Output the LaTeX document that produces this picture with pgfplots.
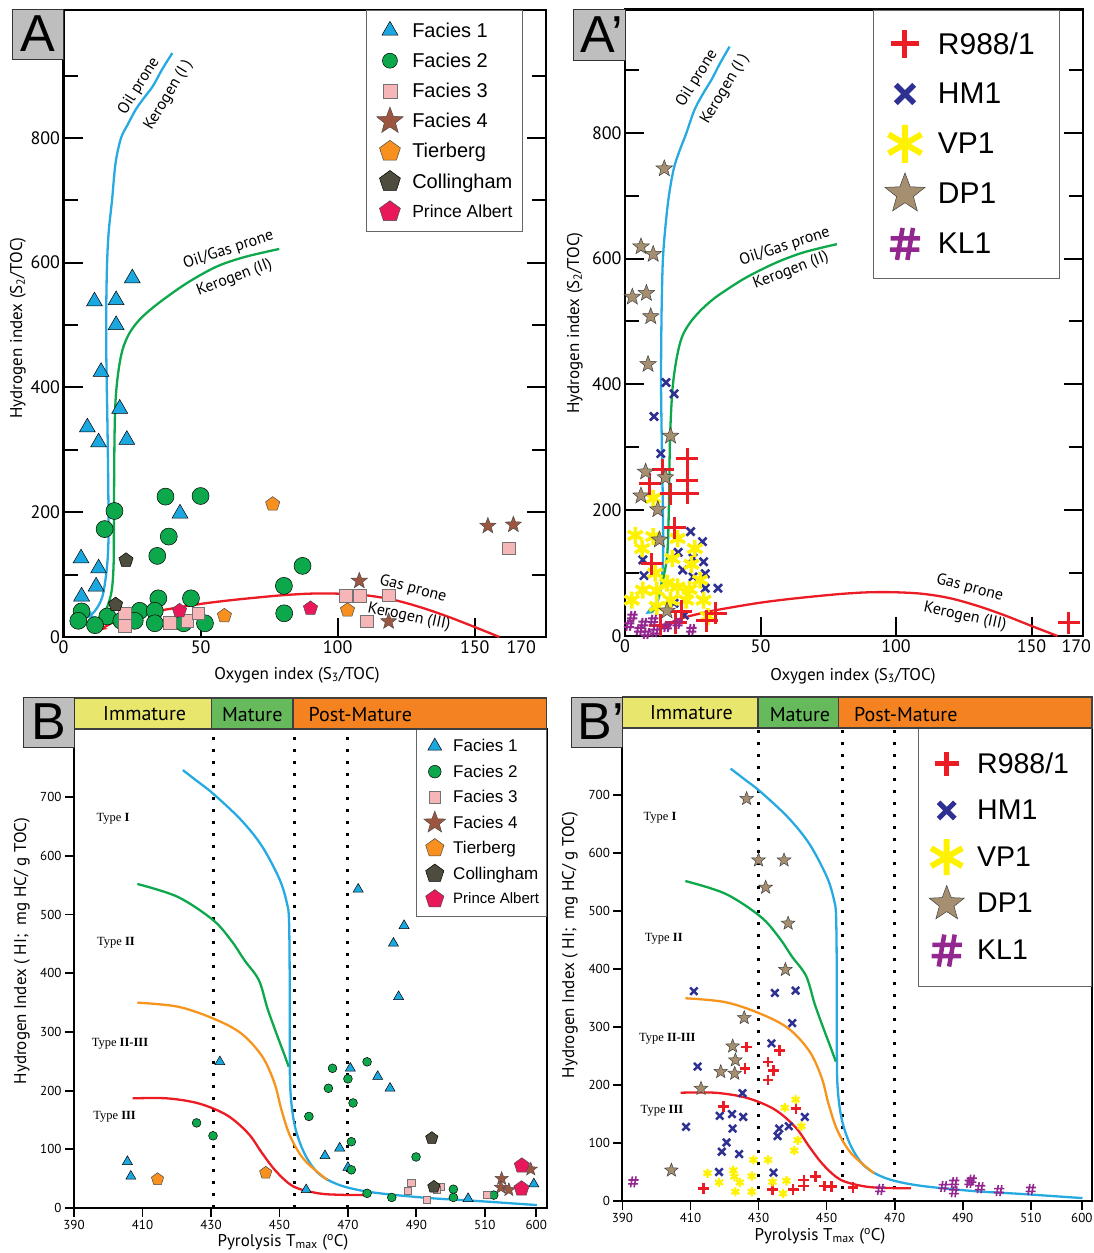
\documentclass[border=0pt]{standalone}
\usepackage{fontspec}
\setmainfont{Liberation Sans}
\newfontfamily\ptsans{PT Sans}
\newfontfamily\lserif{Liberation Serif}
\usepackage{pgfplots}
\pgfplotsset{compat=1.18}
\usetikzlibrary{arrows.meta}

\definecolor{cyanb}{HTML}{1BA8E0}
\definecolor{curveblue}{HTML}{27AAE1}
\definecolor{grn}{HTML}{0DA84B}
\definecolor{pinksq}{HTML}{F6B6B8}
\definecolor{brstar}{HTML}{9C5640}
\definecolor{tier}{HTML}{F7901E}
\definecolor{coll}{HTML}{4D4C3E}
\definecolor{prince}{HTML}{E8185A}
\definecolor{redc}{HTML}{EC1C24}
\definecolor{orc}{HTML}{F7941D}
\definecolor{hm}{HTML}{2E3192}
\definecolor{vp}{HTML}{FFF200}
\definecolor{dp}{HTML}{A58F70}
\definecolor{kl}{HTML}{93278F}
\definecolor{bandY}{HTML}{E8E66C}
\definecolor{bandG}{HTML}{66BA5C}
\definecolor{bandO}{HTML}{F48220}
\definecolor{boxgray}{HTML}{BEBEBE}

\pgfdeclareplotmark{fstar}{%
  \pgfpathmoveto{\pgfqpointpolar{90}{\pgfplotmarksize}}%
  \pgfpathlineto{\pgfqpointpolar{126}{0.42\pgfplotmarksize}}%
  \pgfpathlineto{\pgfqpointpolar{162}{\pgfplotmarksize}}%
  \pgfpathlineto{\pgfqpointpolar{198}{0.42\pgfplotmarksize}}%
  \pgfpathlineto{\pgfqpointpolar{234}{\pgfplotmarksize}}%
  \pgfpathlineto{\pgfqpointpolar{270}{0.42\pgfplotmarksize}}%
  \pgfpathlineto{\pgfqpointpolar{306}{\pgfplotmarksize}}%
  \pgfpathlineto{\pgfqpointpolar{342}{0.42\pgfplotmarksize}}%
  \pgfpathlineto{\pgfqpointpolar{18}{\pgfplotmarksize}}%
  \pgfpathlineto{\pgfqpointpolar{54}{0.42\pgfplotmarksize}}%
  \pgfpathclose
  \pgfusepathqfillstroke
}
\pgfdeclareplotmark{hashm}{%
  \pgfpathmoveto{\pgfqpoint{-0.5\pgfplotmarksize}{-\pgfplotmarksize}}%
  \pgfpathlineto{\pgfqpoint{-0.15\pgfplotmarksize}{\pgfplotmarksize}}%
  \pgfpathmoveto{\pgfqpoint{0.15\pgfplotmarksize}{-\pgfplotmarksize}}%
  \pgfpathlineto{\pgfqpoint{0.5\pgfplotmarksize}{\pgfplotmarksize}}%
  \pgfpathmoveto{\pgfqpoint{-0.9\pgfplotmarksize}{0.35\pgfplotmarksize}}%
  \pgfpathlineto{\pgfqpoint{0.95\pgfplotmarksize}{0.35\pgfplotmarksize}}%
  \pgfpathmoveto{\pgfqpoint{-0.95\pgfplotmarksize}{-0.35\pgfplotmarksize}}%
  \pgfpathlineto{\pgfqpoint{0.9\pgfplotmarksize}{-0.35\pgfplotmarksize}}%
  \pgfusepathqstroke
}

\pgfplotsset{
  sF1/.style={mark=triangle*, mark options={solid, fill=cyanb, draw=black, line width=0.5pt}},
  sF2/.style={mark=*, mark options={solid, fill=grn, draw=black, line width=0.5pt}},
  sF3/.style={mark=square*, mark options={solid, fill=pinksq, draw=black!55, line width=0.6pt}},
  sF4/.style={mark=fstar, mark options={solid, fill=brstar, draw=black!70, line width=0.5pt}},
  sTi/.style={mark=pentagon*, mark options={solid, fill=tier, draw=black!70, line width=0.5pt}},
  sCo/.style={mark=pentagon*, mark options={solid, fill=coll, draw=black, line width=0.5pt}},
  sPA/.style={mark=pentagon*, mark options={solid, fill=prince, draw=black!70, line width=0.5pt}},
  sD/.style={mark=fstar, mark options={solid, fill=dp, draw=black!75, line width=0.5pt}},
  cv/.style={smooth, tension=0.55, line width=2.3pt, mark=none, forget plot},
  pts/.style={only marks, forget plot},
}

\begin{document}
\begin{tikzpicture}
\path[use as bounding box] (0pt,0pt) rectangle (1094pt,-1253pt);

%%%%%%%%%%%%%%%% PANEL A
\begin{axis}[at={(63.5pt,-637pt)}, anchor=south west, scale only axis,
  width=482.5pt, height=627pt, xmin=0, xmax=176, ymin=0, ymax=1005, clip=false,
  axis line style={line width=2.2pt}, tick align=inside, xtick pos=left, ytick pos=both,
  xtick={0,50,100,150}, extra x ticks={167}, extra x tick labels={170},
  extra x tick style={major tick length=0pt},
  ytick={0,200,400,600,800}, minor ytick={100,300,500,700,900},
  major tick length=19pt, minor tick length=14pt,
  tick style={line width=2pt, black},
  tick label style={font=\ptsans\fontsize{18}{18}\selectfont},
  /pgf/number format/assume math mode=true,
  legend cell align=left,
  legend style={at={(0.952,1)}, anchor=north east, draw=black!60, line width=0.8pt,
    inner xsep=10pt, inner ysep=5pt, row sep=0pt, column sep=9pt,
    font=\fontsize{20}{22}\selectfont, nodes={minimum height=30.2pt, inner sep=0pt}},
  legend image code/.code={\path[draw=none,fill=none] (-12pt,-6pt) rectangle (12pt,6pt);
    \draw[#1,/tikz/only marks] plot coordinates {(0pt,0pt)};},
]
\addplot[cv, curveblue, -{Stealth[length=8pt,width=7pt]}] coordinates {(39.7,936) (36,910) (32.6,883) (29,862) (26.3,845) (23.5,822) (21,800) (19,760) (17.7,700) (16.5,650) (15.9,600) (15.6,530) (15.6,460) (15.8,400) (16.1,320) (16.4,209) (16.4,155) (15.8,110) (14.2,65) (11.5,42) (8.5,30)};
\addplot[cv, grn, -{Stealth[length=8pt,width=7pt]}] coordinates {(78.7,622) (66,609) (56,594) (46,570) (38,546) (31.5,524) (27,505) (23.8,485) (21.5,460) (20,425) (19,380) (18.6,316) (18.4,200) (18.3,120) (17.6,75) (16,49) (14,33) (11.5,24)};
\addplot[cv, redc, -{Stealth[length=8pt,width=7pt]}] coordinates {(159,0) (150,16) (140,33) (130,48) (120,60) (110,67) (100,69.5) (90,69.5) (80,67) (70,63) (60,58.5) (50,53) (40,46) (30,38) (20,27) (15.4,17) (13,10)};
% Facies 2
\addplot[pts, sF2, mark size=8.5pt] coordinates {(37.2,225) (50,226) (18.6,202) (15,173) (38.4,161) (34.2,130) (87.2,114) (80.4,82) (34.6,62) (46.5,62) (6.6,41) (27.8,42) (33.3,42) (16,33) (5.4,26) (21.1,26) (26,26) (33.3,22) (43.8,22) (51.6,22) (11.5,19) (80.5,38)};
% Facies 1
\addplot[pts, sF1, mark size=9.2pt] coordinates {(13.7,425) (20.5,366) (8.7,336) (12.8,312) (23.1,316) (42.5,198) (6.4,126) (12.8,110) (11.9,81) (6.6,65) (25.1,575) (11.3,538) (19.2,540) (19.2,500)};
% Facies 3
\addplot[pts, sF3, mark size=6.3pt] coordinates {(22.4,37) (22.4,18) (38.8,23) (45.2,26) (49.1,38) (102.9,66) (108.1,66) (118.6,67) (110.6,25) (162.4,142)};
% Facies 4
\addplot[pts, sF4, mark size=8.5pt] coordinates {(107.9,90) (118.6,25) (154.8,178) (164.1,180)};
\addplot[pts, sTi, mark size=7.5pt] coordinates {(76.3,213) (58.7,34) (103.6,43)};
\addplot[pts, sCo, mark size=7.5pt] coordinates {(22.8,123) (19,52)};
\addplot[pts, sPA, mark size=7.5pt] coordinates {(42.3,42) (90.1,46)};
\addlegendimage{sF1, mark size=9.2pt}\addlegendentry{Facies 1}
\addlegendimage{sF2, mark size=7.5pt}\addlegendentry{Facies 2}
\addlegendimage{sF3, mark size=7pt}\addlegendentry{Facies 3}
\addlegendimage{sF4, mark size=14pt}\addlegendentry{Facies 4}
\addlegendimage{sTi, mark size=11pt}\addlegendentry{Tierberg}
\addlegendimage{sCo, mark size=11pt}\addlegendentry{Collingham}
\addlegendimage{sPA, mark size=11pt}\addlegendentry{\fontsize{17.5}{20}\selectfont Prince Albert}
\end{axis}

%%%%%%%%%%%%%%%% PANEL A'
\begin{axis}[at={(625pt,-636pt)}, anchor=south west, scale only axis,
  width=458pt, height=626.5pt, xmin=0, xmax=169, ymin=0, ymax=996, clip=false,
  axis line style={line width=2.2pt}, tick align=inside, xtick pos=left, ytick pos=both,
  xtick={0,50,100,150}, extra x ticks={166.5}, extra x tick labels={170},
  extra x tick style={major tick length=0pt},
  ytick={0,200,400,600,800}, minor ytick={100,300,500,700,900},
  major tick length=19pt, minor tick length=14pt,
  tick style={line width=2pt, black},
  tick label style={font=\ptsans\fontsize{18}{18}\selectfont},
  /pgf/number format/assume math mode=true,
  legend cell align=left,
  legend style={at={(0.95,1)}, anchor=north east, draw=black!60, line width=0.8pt,
    inner xsep=12pt, inner ysep=9pt, row sep=0pt, column sep=13pt,
    font=\fontsize{30}{32}\selectfont, nodes={minimum height=50pt, inner sep=0pt}},
  legend image code/.code={\path[draw=none,fill=none] (-18pt,-6pt) rectangle (18pt,6pt);
    \draw[#1,/tikz/only marks] plot coordinates {(0pt,0pt)};},
]
\addplot[cv, curveblue, -{Stealth[length=8pt,width=7pt]}] coordinates {(38.6,937) (35,910) (32,885) (28.5,860) (25.5,835) (22.6,799) (20,770) (18,743) (16.2,700) (14.9,650) (14,600) (13.6,540) (13.4,480) (13.3,400) (13.6,300) (14,200) (14,120) (13,70) (11,47) (7.5,35)};
\addplot[cv, grn, -{Stealth[length=8pt,width=7pt]}] coordinates {(78.2,623) (66,610) (56,594) (46,573) (39.8,557) (33,537) (28,518) (24,498) (21,475) (19,440) (17.5,391) (16.6,312) (16.2,206) (15.5,126) (13,73) (9.8,36)};
\addplot[cv, redc, -{Stealth[length=8pt,width=7pt]}] coordinates {(159.6,0) (150,16) (140,33) (130,48) (120,60) (110,67) (100,69.5) (90,69.5) (80,67) (70,63) (60,58.5) (50,53) (40,46) (30,38) (20,27) (15.4,17) (13,10)};
% HM1
\addplot[pts, mark=x, hm, mark size=5.7pt, mark options={line width=2.6pt}] coordinates {(15.1,403) (18.1,385) (10.7,349) (13.2,290) (24.2,166) (28.6,150) (19.6,133) (6.6,121) (29,118) (25.1,124) (21.3,105) (29.6,99) (7,96) (25.1,94) (34.3,76) (29.6,76) (21.9,33) (18.1,52)};
% VP1
\addplot[pts, mark=asterisk, vp, mark size=8.5pt, mark options={line width=3.6pt}] coordinates {(3.8,160) (10.4,158) (19.4,155) (6.3,139) (25.8,139) (17.5,123) (24.5,114) (11.1,100) (27.7,89) (15.5,84) (19.4,78) (6.6,73) (11.7,72) (23.8,74) (2.5,57) (16.8,57) (22.6,57) (29,57) (10.4,219) (30.6,31) (11.7,47)};
% R988/1
\addplot[pts, mark=+, redc, mark size=11pt, mark options={line width=3pt}] coordinates {(23,282) (14,264) (23,248) (9.1,242) (16.8,226) (23.2,227) (18.3,172) (9.8,115) (33.5,36) (30.2,24) (163.7,21) (20.7,39) (13,17) (18.7,21)};
% DP1
\addplot[pts, sD, mark size=8.7pt] coordinates {(14.5,743) (5.9,619) (10.4,607) (2.7,539) (7.9,545) (9.5,508) (8.5,432) (16.8,318) (7.6,261) (14.9,252) (5.9,223) (12.1,201) (12.7,153) (15.5,40)};
% KL1
\addplot[pts, mark=hashm, kl, mark size=5.5pt, mark options={line width=2pt}] coordinates {(2.7,31) (6.8,20) (10.4,25) (5.3,10) (11.1,7) (15.5,15) (19.4,20) (24.5,10) (1.5,17) (7.9,4)};
\addlegendimage{mark=+, redc, mark size=14pt, mark options={line width=5pt}}\addlegendentry{R988/1\rule{13pt}{0pt}}
\addlegendimage{mark=x, hm, mark size=13pt, mark options={line width=5.5pt}}\addlegendentry{HM1}
\addlegendimage{mark=asterisk, vp, mark size=19pt, mark options={line width=6pt}}\addlegendentry{VP1}
\addlegendimage{sD, mark size=21pt}\addlegendentry{DP1}
\addlegendimage{mark=hashm, kl, mark size=16pt, mark options={line width=4.5pt}}\addlegendentry{KL1}
\end{axis}

%%%%%%%%%%%%%%%% PANEL B
\begin{axis}[at={(74pt,-1208pt)}, anchor=south west, scale only axis,
  width=472.5pt, height=479pt, xmin=390, xmax=528, ymin=0, ymax=816, clip=false,
  axis line style={line width=2pt}, tick align=outside, xtick pos=left, ytick pos=left,
  xtick={390,410,430,450,470,490,510,525}, xticklabels={390,410,430,450,470,490,510,600},
  ytick={0,100,200,300,400,500,600,700},
  major tick length=9pt, tick style={line width=1.8pt, black},
  tick label style={font=\ptsans\fontsize{13}{13}\selectfont},
  /pgf/number format/assume math mode=true,
  legend cell align=left,
  legend style={at={(1,1)}, anchor=north east, draw=black!60, line width=0.8pt,
    inner xsep=7pt, inner ysep=4pt, row sep=0pt, column sep=7.5pt,
    font=\fontsize{17}{19}\selectfont, nodes={minimum height=25.5pt, inner sep=0pt}},
  legend image code/.code={\path[draw=none,fill=none] (-10.5pt,-6pt) rectangle (10.5pt,6pt);
    \draw[#1,/tikz/only marks] plot coordinates {(0pt,0pt)};},
]
\draw[line width=3pt, dash pattern=on 3pt off 9pt] (axis cs:430.6,0) -- (axis cs:430.6,816);
\draw[line width=3pt, dash pattern=on 3pt off 9pt] (axis cs:454.4,0) -- (axis cs:454.4,816);
\draw[line width=3pt, dash pattern=on 3pt off 9pt] (axis cs:470,0) -- (axis cs:470,816);
\addplot[cv, curveblue] coordinates {(421.8,746) (426,727) (430.6,706) (438.8,661) (445,615.5) (450.1,559) (452.2,519) (452.8,490) (453,390) (453,290) (453.2,200) (454.5,140) (457.3,93) (461.4,59) (467.6,39) (476.8,27) (492.3,17.6) (507.7,12) (525.2,5)};
\addplot[cv, grn] coordinates {(408.5,552) (420.3,530) (430.6,490.6) (436,455) (439.8,422) (444,388) (446.5,340) (449.1,297.6) (451.2,265) (452.7,240.8)};
\addplot[cv, orc] coordinates {(408.5,349.8) (420.3,343) (430.6,323) (438.8,297.6) (445,258) (448.6,212) (450.6,167) (453.2,121.5) (457.3,81.8) (464,47.7)};
\addplot[cv, redc] coordinates {(407.1,186.8) (417.2,186.8) (426.5,178) (434.7,158) (440.9,127) (445,93) (449.1,62) (454.2,36.4) (461.4,25) (468,22.5) (474.8,22)};
\addplot[pts, sF1, mark size=5.8pt] coordinates {(473,543) (486.4,481) (483.3,451) (484.8,360) (432.6,249) (470.7,238) (478.7,224) (482.3,204) (467.6,102) (463.3,89) (470,69) (405.6,79) (406.6,54) (457.8,31) (505.1,16) (524.3,41)};
\addplot[pts, sF2, mark size=4.4pt] coordinates {(425.8,145) (430.6,123) (465.5,238) (464.3,204) (470,220) (475.6,249) (471.5,179) (458.6,156) (471,113) (471,65) (489.9,87) (475.6,25) (482.8,18) (500.8,32) (500.8,18) (512.6,22)};
\addplot[pts, sF3, mark size=3.6pt] coordinates {(488.5,43) (487.4,30) (493,14) (497.1,36) (496,31) (510.5,22)};
\addplot[pts, sF4, mark size=7pt] coordinates {(514.9,50) (514.7,35) (517,31) (523.4,66)};
\addplot[pts, sTi, mark size=6.5pt] coordinates {(414.4,49) (446,60)};
\addplot[pts, sCo, mark size=6.5pt] coordinates {(494.5,119) (495.1,36)};
\addplot[pts, sPA, mark size=8pt] coordinates {(520.8,72) (520.7,33)};
\addlegendimage{sF1, mark size=8pt}\addlegendentry{Facies 1}
\addlegendimage{sF2, mark size=6.3pt}\addlegendentry{Facies 2}
\addlegendimage{sF3, mark size=5.8pt}\addlegendentry{Facies 3}
\addlegendimage{sF4, mark size=11.5pt}\addlegendentry{Facies 4}
\addlegendimage{sTi, mark size=9.6pt}\addlegendentry{Tierberg}
\addlegendimage{sCo, mark size=9.6pt}\addlegendentry{Collingham}
\addlegendimage{sPA, mark size=9.6pt}\addlegendentry{\fontsize{15}{17}\selectfont Prince Albert}
\end{axis}

%%%%%%%%%%%%%%%% PANEL B'
\begin{axis}[at={(622.4pt,-1201pt)}, anchor=south west, scale only axis,
  width=469.6pt, height=473pt, xmin=390, xmax=528, ymin=0, ymax=816, clip=false,
  axis line style={line width=2pt}, tick align=outside, xtick pos=left, ytick pos=left,
  xtick={390,410,430,450,470,490,510,525}, xticklabels={390,410,430,450,470,490,510,600},
  ytick={0,100,200,300,400,500,600,700},
  major tick length=9pt, tick style={line width=1.8pt, black},
  tick label style={font=\ptsans\fontsize{13}{13}\selectfont},
  /pgf/number format/assume math mode=true,
  legend cell align=left,
  legend style={at={(1,1)}, anchor=north east, draw=black!60, line width=0.8pt,
    inner xsep=11pt, inner ysep=12pt, row sep=0pt, column sep=13pt,
    font=\fontsize{28.5}{30}\selectfont, nodes={minimum height=46.7pt, inner sep=0pt}},
  legend image code/.code={\path[draw=none,fill=none] (-16.5pt,-6pt) rectangle (16.5pt,6pt);
    \draw[#1,/tikz/only marks] plot coordinates {(0pt,0pt)};},
]
\draw[line width=3pt, dash pattern=on 3pt off 9pt] (axis cs:430,0) -- (axis cs:430,816);
\draw[line width=3pt, dash pattern=on 3pt off 9pt] (axis cs:454.6,0) -- (axis cs:454.6,816);
\draw[line width=3pt, dash pattern=on 3pt off 9pt] (axis cs:470,0) -- (axis cs:470,816);
\addplot[cv, curveblue] coordinates {(421.8,746) (426,727) (430.6,706) (438.8,661) (445,615.5) (450.1,559) (452.2,519) (452.8,490) (453,390) (453,290) (453.2,200) (454.5,140) (457.3,93) (461.4,59) (467.6,39) (476.8,27) (492.3,17.6) (507.7,12) (525.2,5)};
\addplot[cv, grn] coordinates {(408.5,552) (420.3,530) (430.6,490.6) (436,455) (439.8,422) (444,388) (446.5,340) (449.1,297.6) (451.2,265) (452.7,240.8)};
\addplot[cv, orc] coordinates {(408.5,349.8) (420.3,343) (430.6,323) (438.8,297.6) (445,258) (448.6,212) (450.6,167) (453.2,121.5) (457.3,81.8) (464,47.7)};
\addplot[cv, redc] coordinates {(407.1,186.8) (417.2,186.8) (426.5,178) (434.7,158) (440.9,127) (445,93) (449.1,62) (454.2,36.4) (461.4,25) (468,22.5) (474.8,22)};
% HM1
\addplot[pts, mark=x, hm, mark size=5.2pt, mark options={line width=2.5pt}] coordinates {(411,362) (434.8,359) (440.9,363) (439.9,307) (433.8,272) (412.1,232) (425.3,186) (418.6,147) (422.2,150) (425.5,145) (443.6,145) (408.7,128) (422.4,125) (436.1,125) (438.9,129) (435.6,112) (420.6,101) (419.2,85) (424.3,81) (418.4,50) (434.4,49)};
% R988/1
\addplot[pts, mark=+, redc, mark size=5.3pt, mark options={line width=2.5pt}] coordinates {(426.5,266) (436.1,260) (432.8,240) (434.4,225) (426,229) (432.8,209) (419.7,163) (441,160) (413.8,22) (434.1,20) (440.2,20) (443.3,36) (443.3,26) (446.8,42) (449.4,26) (451.4,25) (457.8,23)};
% VP1
\addplot[pts, mark=asterisk, vp, mark size=4.6pt, mark options={line width=2.2pt}] coordinates {(440.9,175) (437.7,161) (442.6,129) (441.5,105) (440.5,87) (428.5,71) (432.8,71) (415,48) (422.6,53) (422.9,42) (428,43) (424.5,32) (418.4,32) (434.1,33) (438.2,35) (423.2,16) (428,16) (437.2,13)};
% DP1
\addplot[pts, sD, mark size=7.2pt] coordinates {(426.5,694) (430,588) (437.5,588) (432.1,541) (438.7,479) (437.9,399) (425.8,316) (422.4,267) (423.2,243) (418.9,223) (423,220) (413.1,194) (404.4,53)};
% KL1
\addplot[pts, mark=hashm, kl, mark size=5.5pt, mark options={line width=1.6pt}] coordinates {(393.2,33) (465.8,20) (484.4,25) (487.5,32) (487.5,16) (492,32) (492.6,36) (495.1,23) (500.7,18) (510,20)};
\addlegendimage{mark=+, redc, mark size=12pt, mark options={line width=5pt}}\addlegendentry{R988/1\rule{11.5pt}{0pt}}
\addlegendimage{mark=x, hm, mark size=11.5pt, mark options={line width=5pt}}\addlegendentry{HM1}
\addlegendimage{mark=asterisk, vp, mark size=18pt, mark options={line width=6pt}}\addlegendentry{VP1}
\addlegendimage{sD, mark size=18.4pt}\addlegendentry{DP1}
\addlegendimage{mark=hashm, kl, mark size=16pt, mark options={line width=4.5pt}}\addlegendentry{KL1}
\end{axis}

%%%%%%%%%%%%%%%% Decorations: labels, panel boxes, bands
\tikzset{lab/.style={font=\ptsans\fontsize{17}{17}\selectfont}, ann/.style={font=\ptsans\fontsize{16}{16}\selectfont}}
% A
\node[lab, rotate=90] at (18pt,-328pt) {Hydrogen index (S\textsubscript{2}/TOC)};
\node[lab] at (297pt,-675pt) {Oxygen index (S\textsubscript{3}/TOC)};
\node[ann, rotate=58] at (139pt,-86pt) {Oil prone};
\node[ann, rotate=59] at (168.5pt,-95pt) {Kerogen (I )};
\node[ann, rotate=18] at (228.5pt,-250pt) {Oil/Gas prone};
\node[ann, rotate=21] at (234.5pt,-278pt) {Kerogen (II)};
\node[ann, rotate=-15] at (413pt,-589pt) {Gas prone};
\node[ann, rotate=-12] at (409pt,-617pt) {Kerogen (III)};
\filldraw[fill=boxgray, draw=black!80, line width=1pt] (12pt,-9pt) rectangle (63.5pt,-59pt);
\node[font=\fontsize{52}{52}\selectfont] at (38pt,-34pt) {A};
% A'
\node[lab, rotate=90] at (575pt,-323pt) {Hydrogen index (S\textsubscript{2}/TOC)};
\node[lab] at (853pt,-676pt) {Oxygen index (S\textsubscript{3}/TOC)};
\node[ann, rotate=58] at (697pt,-78.3pt) {Oil prone};
\node[ann, rotate=59] at (725pt,-89pt) {Kerogen (I )};
\node[ann, rotate=18] at (784.8pt,-246.7pt) {Oil/Gas prone};
\node[ann, rotate=21] at (791pt,-270.7pt) {Kerogen (II)};
\node[ann, rotate=-15] at (969.7pt,-588pt) {Gas prone};
\node[ann, rotate=-12] at (965pt,-616.7pt) {Kerogen (III)};
\filldraw[fill=boxgray, draw=black!80, line width=1pt] (573pt,-9.5pt) rectangle (625pt,-60pt);
\node[font=\fontsize{52}{52}\selectfont] at (601.5pt,-35pt) {A’};
% B
\node[lab, rotate=90] at (22pt,-951pt) {Hydrogen Index ( HI;\ \ mg HC/ g TOC)};
\node[lab] at (283pt,-1242pt) {Pyrolysis T\textsubscript{max} (\textsuperscript{o}C)};
\filldraw[fill=bandY, draw=black!75, line width=1.2pt] (74pt,-698pt) rectangle (211.6pt,-729pt);
\filldraw[fill=bandG, draw=black!75, line width=1.2pt] (211.6pt,-698pt) rectangle (293pt,-729pt);
\filldraw[fill=bandO, draw=black!75, line width=1.2pt] (293pt,-698pt) rectangle (546.5pt,-729pt);
\node[font=\ptsans\fontsize{20}{20}\selectfont] at (144.6pt,-713.5pt) {Immature};
\node[font=\ptsans\fontsize{20}{20}\selectfont] at (252.3pt,-715pt) {Mature};
\node[font=\ptsans\fontsize{20}{20}\selectfont, anchor=west, inner sep=0pt] at (308.5pt,-715pt) {Post-Mature};
\filldraw[fill=boxgray, draw=black!80, line width=1pt] (23pt,-697pt) rectangle (74pt,-747pt);
\node[font=\fontsize{52}{52}\selectfont] at (48.5pt,-722pt) {B};
\node[font=\lserif\fontsize{12.5}{12.5}\selectfont] at (113pt,-819pt) {Type \textbf{I}};
\node[font=\lserif\fontsize{12.5}{12.5}\selectfont] at (116pt,-943pt) {Type \textbf{II}};
\node[font=\lserif\fontsize{12.5}{12.5}\selectfont] at (120pt,-1044pt) {Type \textbf{II-III}};
\node[font=\lserif\fontsize{12.5}{12.5}\selectfont] at (114.6pt,-1117pt) {Type \textbf{III}};
% B'
\node[lab, rotate=90] at (570pt,-945pt) {Hydrogen Index ( HI;\ \ mg HC/ g TOC)};
\node[lab] at (820pt,-1236pt) {Pyrolysis T\textsubscript{max} (\textsuperscript{o}C)};
\filldraw[fill=bandY, draw=black!75, line width=1.2pt] (622.4pt,-697pt) rectangle (758pt,-728pt);
\filldraw[fill=bandG, draw=black!75, line width=1.2pt] (758pt,-697pt) rectangle (838.3pt,-728pt);
\filldraw[fill=bandO, draw=black!75, line width=1.2pt] (838.3pt,-697pt) rectangle (1092pt,-728pt);
\node[font=\ptsans\fontsize{20}{20}\selectfont] at (691.5pt,-712.5pt) {Immature};
\node[font=\ptsans\fontsize{20}{20}\selectfont] at (800pt,-715pt) {Mature};
\node[font=\ptsans\fontsize{20}{20}\selectfont, anchor=west, inner sep=0pt] at (854pt,-715pt) {Post-Mature};
\filldraw[fill=boxgray, draw=black!80, line width=1pt] (571pt,-697pt) rectangle (622.4pt,-747pt);
\node[font=\fontsize{52}{52}\selectfont] at (601pt,-722pt) {B’};
\node[font=\lserif\fontsize{12.5}{12.5}\selectfont] at (660pt,-817.7pt) {Type \textbf{I}};
\node[font=\lserif\fontsize{12.5}{12.5}\selectfont] at (663.8pt,-939pt) {Type \textbf{II}};
\node[font=\lserif\fontsize{12.5}{12.5}\selectfont] at (667.3pt,-1039pt) {Type \textbf{II-III}};
\node[font=\lserif\fontsize{12.5}{12.5}\selectfont] at (662pt,-1110.7pt) {Type \textbf{III}};
\end{tikzpicture}
\end{document}
